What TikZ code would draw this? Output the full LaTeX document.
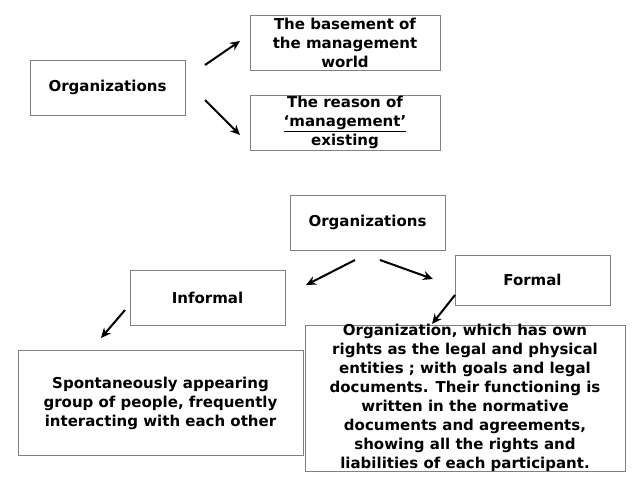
\documentclass[tikz,border=0pt]{standalone}
\usepackage{fontspec}
\setmainfont{DejaVu Sans}
\usetikzlibrary{arrows.meta}
\begin{document}
\begin{tikzpicture}[x=1pt,y=-1pt,
  box/.style={draw=black!50,line width=0.9pt,inner sep=0pt},
  txt/.style={font=\fontsize{15}{19}\selectfont\bfseries,align=center,inner sep=0pt},
  arr/.style={line width=2pt,-{Stealth[length=10pt,width=9pt]}}]
\useasboundingbox (0,0) rectangle (640,480);
% top part
\node[box,minimum width=155,minimum height=55] (org1) at (107.5,87.5) {};
\node[txt] (org1t) at (org1.center) {Organizations};
\node[box,minimum width=190,minimum height=55] (base) at (345,42.5) {};
\node[txt] (baset) at (base.center) {The basement of\\the management\\world};
\node[box,minimum width=190,minimum height=55] (reas) at (345,122.5) {};
\node[txt] (reast) at (reas.center) {The reason of\\\underline{‘management’}\\existing};
\coordinate (a1s) at (205,65);
\coordinate (a1e) at (240,41);
\coordinate (a2s) at (205,100);
\coordinate (a2e) at (240,135);
\draw[arr] (a1s) -- (a1e);
\draw[arr] (a2s) -- (a2e);
% bottom part
\node[box,minimum width=155,minimum height=55] (org2) at (367.5,222.5) {};
\node[txt] (org2t) at (org2.center) {Organizations};
\node[box,minimum width=155,minimum height=55] (inf) at (207.5,297.5) {};
\node[txt] (inft) at (inf.center) {Informal};
\node[box,minimum width=155,minimum height=50] (form) at (532.5,280) {};
\node[txt] (formt) at (form.center) {Formal};
\node[box,minimum width=285,minimum height=105] (infd) at (160.5,403) {};
\node[txt] (infdt) at (infd.center) {Spontaneously appearing\\group of people, frequently\\interacting with each other};
\node[box,minimum width=320,minimum height=146] (formd) at (465,398) {};
\node[txt] (formdt) at (465,398) {Organization, which has own\\rights as the legal and physical\\entities ; with goals and legal\\documents. Their functioning is\\written in the normative\\documents and agreements,\\showing all the rights and\\liabilities of each participant.};
\coordinate (b1s) at (355,260);
\coordinate (b1e) at (306,285);
\coordinate (b2s) at (380,260);
\coordinate (b2e) at (433,279);
\coordinate (b3s) at (125,310);
\coordinate (b3e) at (101,338);
\coordinate (b4s) at (455,295);
\coordinate (b4e) at (432,324);
\draw[arr] (b1s) -- (b1e);
\draw[arr] (b2s) -- (b2e);
\draw[arr] (b3s) -- (b3e);
\draw[arr] (b4s) -- (b4e);
\end{tikzpicture}
\end{document}
